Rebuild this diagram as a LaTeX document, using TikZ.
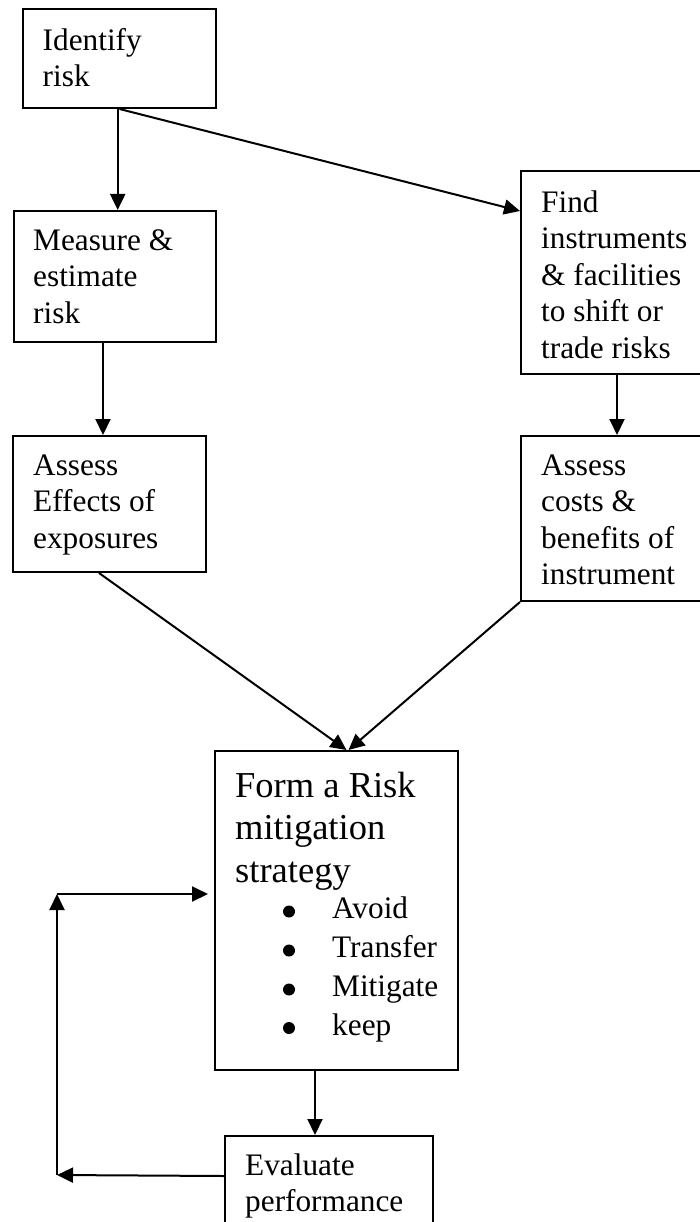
\documentclass[tikz,border=0pt]{standalone}
\usepackage{fontspec}
\setmainfont{Liberation Serif}
\usetikzlibrary{arrows.meta,calc}
\newcommand\boxfont{\fontsize{31.3}{36.5}\selectfont}
\newcommand\bigboxfont{\fontsize{36.5}{42.5}\selectfont}
\newcommand\listfont{\fontsize{31.3}{39.2}\selectfont}
\begin{document}
\begin{tikzpicture}[x=1pt,y=-1pt,
  stage/.style={draw, line width=2pt, inner sep=0pt, anchor=north west},
  boxtext/.style={anchor=north west, inner sep=0pt, align=left, font=\boxfont},
  dot/.style={circle, fill, inner sep=0pt, minimum size=12pt},
  flow/.style={line width=2pt, -{Triangle[length=16pt,width=15pt]}}]
\clip (0,0) rectangle (700,1222);
\fill[white] (0,0) rectangle (700,1222);

% process boxes
\node[stage, minimum width=193pt, minimum height=99pt]  (idf) at (22,8) {};
\node[stage, minimum width=202pt, minimum height=131pt] (msr) at (13,210) {};
\node[stage, minimum width=193pt, minimum height=136pt] (eff) at (12,435) {};
\node[stage, minimum width=185pt, minimum height=203pt] (fnd) at (520,170) {};
\node[stage, minimum width=185pt, minimum height=165pt] (cst) at (520,435) {};
\node[stage, minimum width=243pt, minimum height=319pt] (frm) at (214,750) {};
\node[stage, minimum width=208pt, minimum height=105pt] (evl) at (224,1135) {};

% box texts
\node[boxtext] (tidf) at (42.5,24.45) {\strut Identify\\\strut risk};
\node[boxtext] (tmsr) at (33,224.45) {\strut Measure \&\\\strut estimate\\\strut risk};
\node[boxtext] (teff) at (33,449.45) {\strut Assess\\\strut Effects of\\\strut exposures};
\node[boxtext] (tfnd) at (541,186.45) {\strut Find\\\strut instruments\\\strut \& facilities\\\strut to shift or\\\strut trade risks};
\node[boxtext] (tcst) at (541,449.45) {\strut Assess\\\strut costs \&\\\strut benefits of\\\strut instrument};
\node[boxtext, font=\bigboxfont] (tfrm) at (235,767.25) {\strut Form a Risk\\\strut mitigation\\\strut strategy};
\node[boxtext, font=\listfont] (tlst) at (332,890.56) {\strut Avoid\\\strut Transfer\\\strut Mitigate\\\strut keep};
\node[boxtext] (tevl) at (245,1149.45) {\strut Evaluate\\\strut performance};

% list bullets
\node[dot] (b1) at (289,911.5) {};
\node[dot] (b2) at (289,950.5) {};
\node[dot] (b3) at (289,989.5) {};
\node[dot] (b4) at (289,1028) {};

% feedback loop corners
\coordinate (lb) at (57,1175);
\coordinate (lt) at (57,894);

% connectors
\draw[flow] ([xshift=-1.8pt]idf.south) -- ([xshift=-1.8pt]idf.south |- msr.north);
\draw[flow] (idf.south) -- ([yshift=-41pt]fnd.north west);
\draw[flow] ([xshift=-12pt]msr.south) -- ([xshift=-12pt]msr.south |- eff.north);
\draw[flow] ([xshift=3.5pt]fnd.south) -- ([xshift=3.5pt]fnd.south |- cst.north);
\draw[flow] ([xshift=-10.5pt]eff.south) -- ([xshift=10pt]frm.north);
\draw[flow] (cst.south west) -- ([xshift=12pt]frm.north);
\draw[flow] ([xshift=-21.5pt]frm.south) -- ([xshift=-21.5pt]frm.south |- evl.north);
\draw[flow] ([yshift=12.5pt]evl.west) -- (lb);
\draw[flow] (lb) -- (lt);
\draw[flow, shorten >=6pt] (lt) -- (lt -| frm.west);
\end{tikzpicture}
\end{document}
